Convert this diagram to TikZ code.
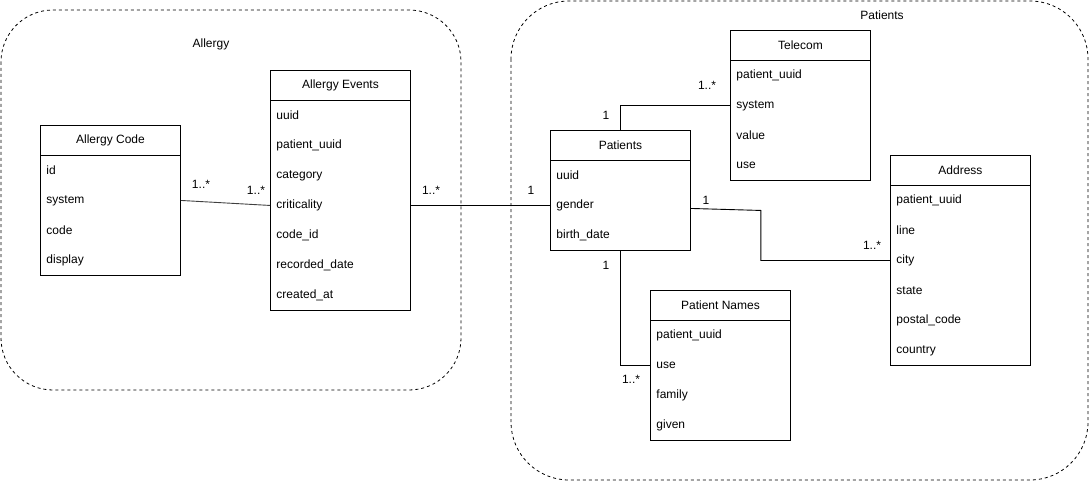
\documentclass[tikz,border=0pt]{standalone}
\usepackage{fontspec}
\setmainfont{Liberation Sans}
\begin{document}
\begin{tikzpicture}[x=1pt, y=-1pt, line width=0.9pt,
  every node/.style={font=\fontsize{12}{14}\selectfont},
  tbl/.style={draw, minimum width=140, inner sep=0, anchor=north west},
  hdr/.style={draw, minimum width=140, minimum height=30, inner sep=0, anchor=north west},
  fld/.style={minimum height=30, text width=128, inner xsep=6, inner ysep=0, align=left, anchor=north west},
  group/.style={draw=black, line width=0.8pt, dash pattern=on 3pt off 3pt, rounded corners=52},
  mult/.style={inner sep=0}]
\useasboundingbox (0,0) rectangle (1091,481);
% Groups
\draw[group] (1,10) rectangle (461,390);
\node (allergylbl) at (211,44) {Allergy};
\draw[group, rounded corners=58] (511,1) rectangle (1088,480);
\node (patientslbl) at (882,15) {Patients};
% Allergy Code
\node[tbl, minimum height=150] (ac) at (40,125) {};
\node[hdr] (ac-h) at (40,125) {Allergy Code};
\foreach \f [count=\i] in {id,system,code,display}
  \node[fld] (ac-\i) at (40,125+30*\i) {\f};
% Allergy Events
\node[tbl, minimum height=240] (ae) at (270,70) {};
\node[hdr] (ae-h) at (270,70) {Allergy Events};
\foreach \f [count=\i] in {uuid,patient\_uuid,category,criticality,code\_id,recorded\_date,created\_at}
  \node[fld] (ae-\i) at (270,70+30*\i) {\f};
% Patients
\node[tbl, minimum height=120] (pat) at (550,130) {};
\node[hdr] (pat-h) at (550,130) {Patients};
\foreach \f [count=\i] in {uuid,gender,birth\_date}
  \node[fld] (pat-\i) at (550,130+30*\i) {\f};
% Telecom
\node[tbl, minimum height=150] (tel) at (730,30) {};
\node[hdr] (tel-h) at (730,30) {Telecom};
\foreach \f [count=\i] in {patient\_uuid,system,value,use}
  \node[fld] (tel-\i) at (730,30+30*\i) {\f};
% Address
\node[tbl, minimum height=210] (addr) at (890,155) {};
\node[hdr] (addr-h) at (890,155) {Address};
\foreach \f [count=\i] in {patient\_uuid,line,city,state,postal\_code,country}
  \node[fld] (addr-\i) at (890,155+30*\i) {\f};
% Patient Names
\node[tbl, minimum height=150] (pn) at (650,290) {};
\node[hdr] (pn-h) at (650,290) {Patient Names};
\foreach \f [count=\i] in {patient\_uuid,use,family,given}
  \node[fld] (pn-\i) at (650,290+30*\i) {\f};
% Relations
\draw[black!75] (ac-2.east) -- (ae-4.west);
\draw (ae-4.east) -- (pat-2.west);
\draw (pat.north) |- (tel-2.west);
\draw ([yshift=-3pt]pat-2.east) -- ++(70,2) |- (addr-3.west);
\draw (pat.south) |- (pn-2.west);
% Multiplicities
\node[mult] (m1) at (201,184) {1..*};
\node[mult] (m2) at (256,190) {1..*};
\node[mult] (m3) at (431,190) {1..*};
\node[mult] (m4) at (531,190) {1};
\node[mult] (m5) at (606,115) {1};
\node[mult] (m6) at (707,85) {1..*};
\node[mult] (m7) at (706,200) {1};
\node[mult] (m8) at (872,245) {1..*};
\node[mult] (m9) at (606,265) {1};
\node[mult] (m10) at (631,379) {1..*};
\end{tikzpicture}
\end{document}
